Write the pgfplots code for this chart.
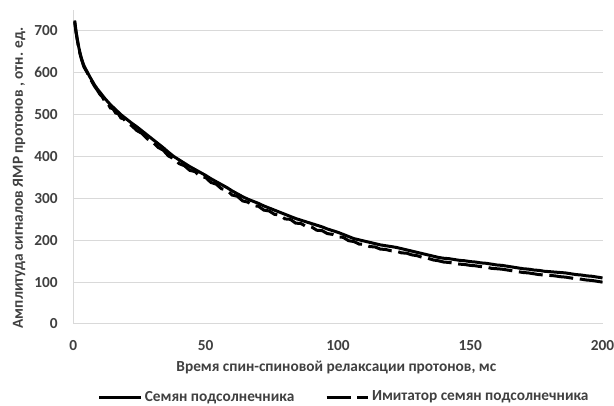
\documentclass[border=0pt]{standalone}
\usepackage{fontspec}
\setmainfont{Carlito}
\usepackage{pgfplots}
\pgfplotsset{compat=1.18}
\definecolor{txt}{HTML}{404040}
\definecolor{gridgray}{HTML}{D9D9D9}
\begin{document}
\begin{tikzpicture}
\begin{axis}[
  scale only axis,
  width=396.9pt, height=235.5pt,
  xmin=0, xmax=200, ymin=0, ymax=750,
  xtick={0,50,100,150,200},
  ytick={0,100,200,300,400,500,600,700},
  xmajorgrids=false, ymajorgrids=true,
  grid style={draw=gridgray, line width=0.75pt},
  axis x line*=bottom, axis y line*=left,
  axis line style={draw=gridgray, line width=0.75pt, -},
  major tick length=0pt,
  /pgf/number format/assume math mode=true,
  tick label style={font=\fontsize{11.5}{13}\selectfont\bfseries, text=txt},
  yticklabel style={anchor=east, inner sep=0pt, xshift=-11.5pt},
  xticklabel style={anchor=north, inner sep=0pt, yshift=-12pt},
  xlabel={Время спин-спиновой релаксации протонов, мс},
  xlabel style={at={(axis description cs:0.497,-0.137)}, anchor=center, font=\fontsize{11.5}{13}\selectfont\bfseries, text=txt, inner sep=0pt},
  ylabel={Амплитуда сигналов ЯМР протонов , отн. ед.},
  ylabel style={at={(axis description cs:-0.1026,0.465)}, anchor=center, rotate=0, font=\fontsize{11.5}{13}\selectfont\bfseries, text=txt, inner sep=0pt},
  legend style={at={(axis description cs:0.5125,-0.2325)}, anchor=center, draw=none, fill=none,
    font=\fontsize{11.5}{13}\selectfont\bfseries, text=txt, inner sep=0pt,
    /tikz/every even column/.append style={column sep=21pt}},
  legend columns=2,
  legend image code/.code={\draw[#1] (0pt,0pt) -- (31pt,0pt);},
]
\addplot[black, line width=2.25pt, line join=round] coordinates {
(0.5,725)(1,700)(1.5,680)(2,663)(2.5,648)(3,636)(3.5,626)(4,617)(5,605)(6,593)(7,582)(8,571)(9,562)(10,554)
(11,546)(12,538)(13,531)(14,524)(15,518)(16,512)(17,506)(18,500)(19,495)(20,490)(22,480)(24,471)(26,461)(28,451)
(30,441)(32,431)(34,421)(36,410)(38,400)(40,392)(42,384)(44,376)(46,369)(48,362)(50,355)(52,347)(54,340)(56,333)
(58,326)(60,318)(62,311)(64,304)(66,298)(68,293)(70,288)(72,282)(74,277)(76,272)(78,267)(80,262)(82,257)(84,252)
(86,248)(88,244)(90,240)(92,236)(94,232)(96,227)(98,223)(100,219)(102,214)(104,209)(106,204)(108,201)(110,198)
(112,195)(114,192)(116,189)(118,187)(120,185)(122,183)(124,180)(126,177)(128,174)(130,171)(132,168)(134,165)
(136,162)(138,159)(140,157)(142,156)(144,154)(146,152)(148,151)(150,149)(152,148)(154,146)(156,145)(158,143)
(160,141)(162,140)(164,138)(166,136)(168,134)(170,132)(172,131)(174,129)(176,128)(178,126)(180,125)(182,124)
(184,123)(186,122)(188,120)(190,118)(192,117)(194,115)(196,114)(198,112)(200,110)
};
\addlegendentry{Семян подсолнечника}
\addplot[black, line width=2.25pt, dash pattern=on 18pt off 5pt] coordinates {
(0.5,722)(1,697)(1.5,678)(2,660)(2.5,646)(3,634)(3.5,624)(4,614)(5,603)(6,591)(7,579)(8,568)(9,559)(10,549)
(11,542)(12,530)(13,527)(14,516)(15,514)(16,504)(17,502)(18,492)(19,490)(20,482)(22,474)(24,462)(26,455)(28,442)
(30,435)(32,422)(34,415)(36,401)(38,395)(40,383)(42,378)(44,367)(46,364)(48,352)(50,350)(52,338)(54,334)(56,323)
(58,320)(60,308)(62,305)(64,294)(66,291)(68,283)(70,281)(72,272)(74,270)(76,262)(78,260)(80,251)(82,250)(84,241)
(86,240)(88,233)(90,232)(92,224)(94,223)(96,216)(98,214)(100,208)(102,207)(104,199)(106,197)(108,191)(110,190)
(112,185)(114,184)(116,179)(118,178)(120,175)(122,174)(124,170)(126,169)(128,165)(130,163)(132,159)(134,157)
(136,153)(138,151)(140,148)(142,147)(144,145)(146,143)(148,142)(150,140)(152,139)(154,137)(156,136)(158,133)
(160,132)(162,131)(164,129)(166,127)(168,125)(170,123)(172,122)(174,120)(176,118)(178,117)(180,116)(182,115)
(184,113)(186,112)(188,110)(190,108)(192,107)(194,105)(196,104)(198,102)(200,100)
};
\addlegendentry{Имитатор семян подсолнечника}
\end{axis}
\pgfresetboundingbox
\useasboundingbox (-55pt,-61.5pt) rectangle (405.5pt,243pt);
\end{tikzpicture}
\end{document}
